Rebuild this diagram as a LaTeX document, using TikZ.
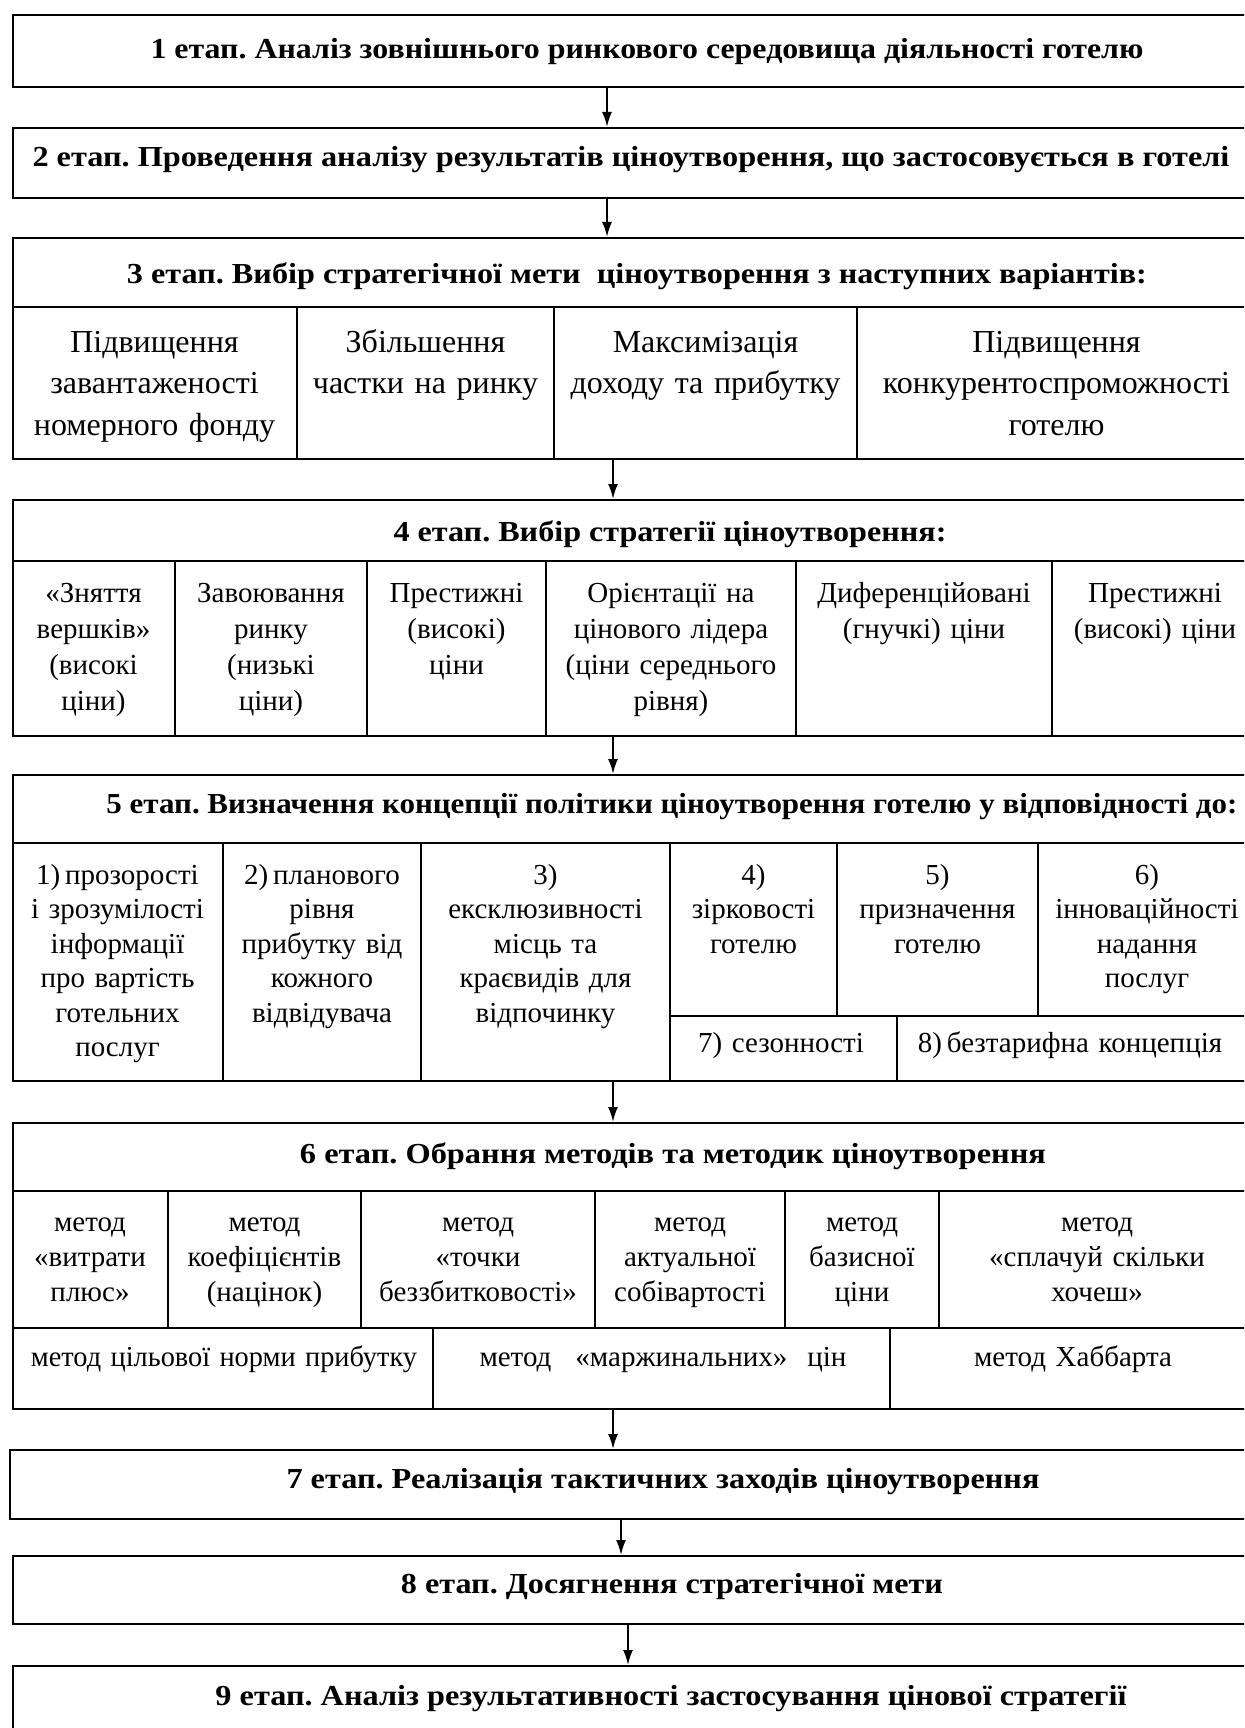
\documentclass[tikz,border=0pt]{standalone}
\usepackage{fontspec}
\setmainfont{Liberation Serif}
\usetikzlibrary{arrows.meta}
\newcommand\hw[2]{\resizebox{#1pt}{\height}{#2}}
\begin{document}
\frenchspacing
\begin{tikzpicture}[x=1pt,y=-1pt,
  stage/.style={draw, line width=2.2pt, inner sep=0pt, anchor=north west},
  div/.style={line width=1.6pt},
  hdr/.style={font=\bfseries\fontsize{29}{35}\selectfont, inner sep=0pt, anchor=base},
  cellA/.style={font=\fontsize{32}{41.7}\selectfont, inner sep=0pt, anchor=base, align=center, text width=#1pt},
  cellB/.style={font=\fontsize{29}{36}\selectfont, inner sep=0pt, anchor=base, align=center, text width=#1pt},
  cellC/.style={font=\fontsize{29}{34.5}\selectfont, inner sep=0pt, anchor=base, align=center, text width=#1pt},
  cellD/.style={font=\fontsize{29}{35}\selectfont, inner sep=0pt, anchor=base, align=center, text width=#1pt},
  arr/.style={line width=2pt, -{Latex[length=15pt,width=10pt]}}
]
\path[use as bounding box] (0,0) rectangle (1244,1728);
\clip (0,0) rectangle (1244,1728);
\fill[white] (0,0) rectangle (1244,1728);

% stage boxes
\node[stage, minimum width=1250pt, minimum height=72pt] (s1) at (12,14) {};
\node[stage, minimum width=1250pt, minimum height=70pt] (s2) at (12,127) {};
\node[stage, minimum width=1250pt, minimum height=221pt] (s3) at (12,237) {};
\node[stage, minimum width=1250pt, minimum height=236pt] (s4) at (12,499) {};
\node[stage, minimum width=1250pt, minimum height=306pt] (s5) at (12,774) {};
\node[stage, minimum width=1250pt, minimum height=286pt] (s6) at (12,1122) {};
\node[stage, minimum width=1253pt, minimum height=69pt] (s7) at (9,1449) {};
\node[stage, minimum width=1250pt, minimum height=68pt] (s8) at (12,1555) {};
\node[stage, minimum width=1250pt, minimum height=140pt] (s9) at (12,1665) {};

% dividers stage 3
\draw[div] (12,307) -- (1262,307);
\foreach \x in {297,554,857} \draw[div] (\x,307) -- (\x,458);
% stage 4
\draw[div] (12,561) -- (1262,561);
\foreach \x in {175,367,546,796,1052} \draw[div] (\x,561) -- (\x,735);
% stage 5
\draw[div] (12,843) -- (1262,843);
\foreach \x in {223,421,670} \draw[div] (\x,843) -- (\x,1080);
\foreach \x in {837,1038} \draw[div] (\x,843) -- (\x,1016);
\draw[div] (670,1016) -- (1262,1016);
\draw[div] (897,1016) -- (897,1080);
% stage 6
\draw[div] (12,1191) -- (1262,1191);
\foreach \x in {168,361,595,785,939} \draw[div] (\x,1191) -- (\x,1328);
\draw[div] (12,1328) -- (1262,1328);
\foreach \x in {433,890} \draw[div] (\x,1328) -- (\x,1408);

% headers
\node[hdr] (h1) at (647,59) {\hw{993}{1 етап. Аналіз зовнішнього ринкового середовища діяльності готелю}};
\node[hdr] (h2) at (631,167) {\hw{1197}{2 етап. Проведення аналізу результатів ціноутворення, що застосовується в готелі}};
\node[hdr] (h3) at (637,283) {\hw{1020}{3 етап. Вибір стратегічної мети\ \ ціноутворення з наступних варіантів:}};
\node[hdr] (h4) at (670,541) {\hw{553}{4 етап. Вибір стратегії ціноутворення:}};
\node[hdr] (h5) at (672,813) {\hw{1131}{5 етап. Визначення концепції політики ціноутворення готелю у відповідності до:}};
\node[hdr] (h6) at (673,1163) {\hw{746}{6 етап. Обрання методів та методик ціноутворення}};
\node[hdr] (h7) at (663,1488) {\hw{753}{7 етап. Реалізація тактичних заходів ціноутворення}};
\node[hdr] (h8) at (672,1593) {\hw{542}{8 етап. Досягнення стратегічної мети}};
\node[hdr] (h9) at (671,1705) {\hw{911}{9 етап. Аналіз результативності застосування цінової стратегії}};

% stage 3 cells
\node[cellA=280] (c31) at (154.5,352) {Підвищення\\завантаженості\\номерного фонду};
\node[cellA=252] (c32) at (425.5,352) {Збільшення\\частки на ринку};
\node[cellA=298] (c33) at (705.5,352) {Максимізація\\доходу та прибутку};
\node[cellA=396] (c34) at (1056.5,352) {Підвищення\\конкурентоспроможності\\готелю};

% stage 4 cells
\node[cellB=160] (c41) at (93.5,602) {«Зняття\\вершків»\\(високі\\ціни)};
\node[cellB=188] (c42) at (271,602) {Завоювання\\ринку\\(низькі\\ціни)};
\node[cellB=176] (c43) at (456.5,602) {Престижні\\(високі)\\ціни};
\node[cellB=246] (c44) at (671,602) {Орієнтації на\\цінового лідера\\(ціни середнього\\рівня)};
\node[cellB=252] (c45) at (924,602) {Диференційовані\\(гнучкі) ціни};
\node[cellB=200] (c46) at (1155,602) {Престижні\\(високі) ціни};

% stage 5 cells
\node[cellC=208] (c51) at (117.5,884) {1)\,прозорості\\і зрозумілості\\інформації\\про вартість\\готельних\\послуг};
\node[cellC=194] (c52) at (322,884) {2)\,планового\\рівня\\прибутку від\\кожного\\відвідувача};
\node[cellC=246] (c53) at (545.5,884) {3)\\ексклюзивності\\місць та\\краєвидів для\\відпочинку};
\node[cellC=164] (c54) at (753.5,884) {4)\\зірковості\\готелю};
\node[cellC=198] (c55) at (937.5,884) {5)\\призначення\\готелю};
\node[cellC=214] (c56) at (1147,884) {6)\\інноваційності\\надання\\послуг};
\node[cellC=224] (c57) at (781,1052) {7) сезонності};
\node[cellC=350] (c58) at (1070,1052) {8)\,безтарифна концепція};

% stage 6 cells
\node[cellD=152] (c61) at (90,1231) {метод\\«витрати\\плюс»};
\node[cellD=190] (c62) at (264.5,1231) {метод\\коефіцієнтів\\(націнок)};
\node[cellD=230] (c63) at (478,1231) {метод\\«точки\\беззбитковості»};
\node[cellD=186] (c64) at (690,1231) {метод\\актуальної\\собівартості};
\node[cellD=150] (c65) at (862,1231) {метод\\базисної\\ціни};
\node[cellD=300] (c66) at (1097,1231) {метод\\«сплачуй скільки\\хочеш»};
\node[cellD=416] (c67) at (224,1366) {\hw{386}{метод цільової норми прибутку}};
\node[cellD=450] (c68) at (663,1366) {метод\hspace{24pt}«маржинальних»\hspace{20pt}цін};
\node[cellD=360] (c69) at (1073,1366) {метод Хаббарта};

% connectors
\draw[arr] (s1.south -| 607,0) -- (s2.north -| 607,0);
\draw[arr] (s2.south -| 607,0) -- (s3.north -| 607,0);
\draw[arr] (s3.south -| 613,0) -- (s4.north -| 613,0);
\draw[arr] (s4.south -| 613,0) -- (s5.north -| 613,0);
\draw[arr] (s5.south -| 613,0) -- (s6.north -| 613,0);
\draw[arr] (s6.south -| 613,0) -- (s7.north -| 613,0);
\draw[arr] (s7.south -| 621,0) -- (s8.north -| 621,0);
\draw[arr] (s8.south -| 628,0) -- (s9.north -| 628,0);
\end{tikzpicture}
\end{document}
